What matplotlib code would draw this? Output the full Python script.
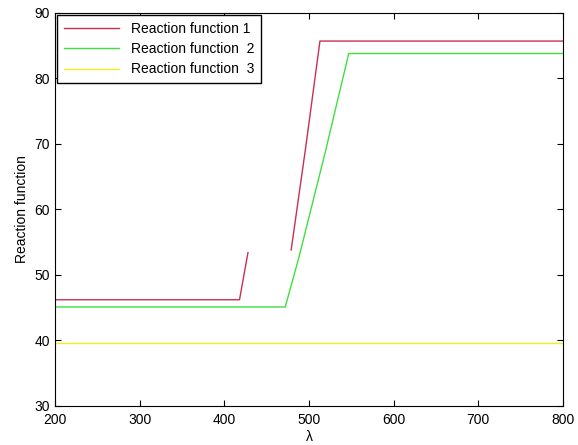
import numpy as np
import matplotlib.pyplot as plt

plt.rcParams['font.family'] = ['Liberation Sans', 'DejaVu Sans']

# reaction function 1 (two pieces, gap between)
r1a_x = [200, 418, 428]
r1a_y = [46.2, 46.2, 53.4]
r1b_x = [479, 496, 513, 800]
r1b_y = [53.8, 69.3, 85.7, 85.7]
# reaction function 2
r2_x = [200, 472, 488, 519, 547, 800]
r2_y = [45.1, 45.1, 52.6, 68.6, 83.8, 83.8]
# reaction function 3
r3_x = [200, 800]
r3_y = [39.6, 39.6]

labels = ["Reaction function 1", "Reaction function  2", "Reaction function  3"]

fig = plt.figure(figsize=(5.78, 4.45), dpi=100)
ax = fig.add_axes([0.095, 0.088, 0.879, 0.883])

ax.plot(r1a_x, r1a_y, color='#c8304e', lw=1, label=labels[0])
ax.plot(r1b_x, r1b_y, color='#c8304e', lw=1)
ax.plot(r2_x, r2_y, color='#3ee03e', lw=1, label=labels[1])
ax.plot(r3_x, r3_y, color='#f0f020', lw=1, label=labels[2])

ax.set_xlim(200, 800)
ax.set_ylim(30, 90)
ax.set_xticks(range(200, 801, 100))
ax.set_yticks(range(30, 91, 10))
ax.tick_params(direction='in', top=True, right=True, labelsize=10, length=4)
ax.tick_params(axis='x', pad=5)
ax.set_xlabel("λ", fontsize=10, labelpad=2)
ax.set_ylabel("Reaction function", fontsize=10)

leg = ax.legend(loc='upper left', fontsize=10, fancybox=False, framealpha=1,
                borderaxespad=0.15, handlelength=4.0, labelspacing=0.45,
                borderpad=0.5)
leg.get_frame().set_edgecolor('black')

fig.savefig("out.png")
